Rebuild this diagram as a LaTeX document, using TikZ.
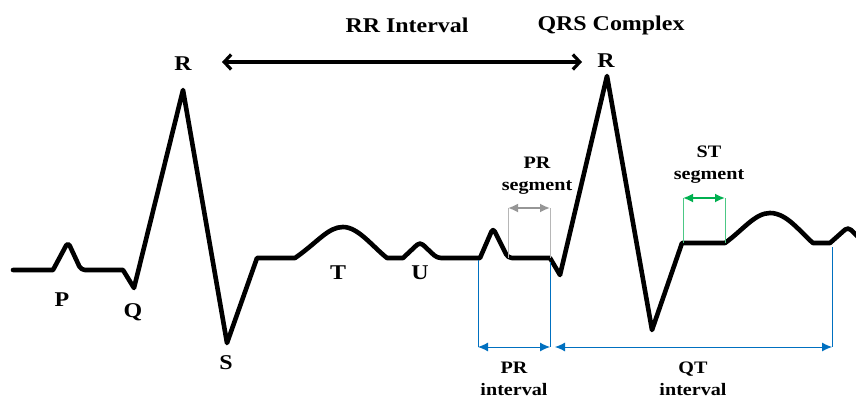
\documentclass[tikz,border=0pt]{standalone}
\usepackage{fontspec}
\setmainfont{Liberation Serif}
\usetikzlibrary{arrows.meta}
\definecolor{ivblue}{RGB}{0,112,192}
\definecolor{stgreen}{RGB}{0,176,80}
\definecolor{prgray}{RGB}{150,150,150}
\tikzset{
  trace/.style={line width=4.6pt, line join=round, line cap=round, black},
  lbl/.style={font=\bfseries\fontsize{21}{24}\selectfont, inner sep=0pt, xscale=1.14},
  slbl/.style={font=\bfseries\fontsize{17.5}{22}\selectfont, inner sep=0pt, align=center, xscale=1.15},
  bluev/.style={ivblue, line width=0.8pt},
  bluearr/.style={ivblue, line width=0.9pt, {Latex[length=10pt,width=9pt]}-{Latex[length=10pt,width=9pt]}},
  grayv/.style={prgray!70, line width=0.8pt},
  grayarr/.style={prgray, line width=1.8pt, {Latex[length=10pt,width=9pt]}-{Latex[length=10pt,width=9pt]}},
  greenv/.style={stgreen!70, line width=0.8pt},
  greenarr/.style={stgreen, line width=1.8pt, {Latex[length=10pt,width=9pt]}-{Latex[length=10pt,width=9pt]}},
  rrarr/.style={black, line width=3.2pt, {Straight Barb[length=7pt,width=15pt]}-{Straight Barb[length=7pt,width=15pt]}}
}
\begin{document}
\begin{tikzpicture}[x=1pt,y=-1pt]
\useasboundingbox (0,0) rectangle (856,401);
\clip (0,0) rectangle (856,401);
% ECG trace
\draw[trace] (13,270) -- (53,270)
  [rounded corners=4pt] -- (68,242) -- (81,270) [sharp corners] -- (123,270)
  -- (134,288) -- (183,90) -- (227,343) -- (257,258) -- (295,258)
  .. controls (318,242) and (328,227) .. (343,227)
  .. controls (358,227) and (372,246) .. (387,258)
  -- (403,258) [rounded corners=4pt] -- (420,242) -- (437,258) [sharp corners]
  -- (480,258) [rounded corners=4pt] -- (493,228) -- (508,258) [sharp corners]
  -- (550,258) -- (560,275) -- (607,76) -- (652,330) -- (682,243) -- (725,243)
  .. controls (743,230) and (755,213) .. (770,213)
  .. controls (787,213) and (800,232) .. (813,243)
  -- (830,243) [rounded corners=4pt] -- (848,227) -- (866,245);
% coordinates
\coordinate (rrL) at (222,62);
\coordinate (rrR) at (582,62);
\coordinate (prsL) at (508,208);
\coordinate (prsR) at (550,208);
\coordinate (prsLb) at (508,258);
\coordinate (prsRb) at (550,258);
\coordinate (stL) at (683,198);
\coordinate (stR) at (725,198);
\coordinate (stLb) at (683,243);
\coordinate (stRb) at (725,243);
\coordinate (prT) at (478,260);
\coordinate (prB) at (478,347);
\coordinate (qT) at (550,262);
\coordinate (qB) at (550,347);
\coordinate (qtT) at (832,247);
\coordinate (qtB) at (832,347);
\coordinate (qtL) at (555,347);
% labels
\node[lbl] (lP) at (62,300) {P};
\node[lbl] (lQ) at (133,312) {Q};
\node[lbl] (lR1) at (183,64) {R};
\node[lbl] (lS) at (226,363) {S};
\node[lbl] (lT) at (338,273) {T};
\node[lbl] (lU) at (420,273) {U};
\node[lbl] (lR2) at (606,61) {R};
\node[lbl] (lRR) at (407,25) {RR Interval};
\node[lbl] (lQRS) at (611,25) {QRS Complex};
\node[slbl] (lPRs) at (537,176) {PR\\segment};
\node[slbl] (lSTs) at (709,165) {ST\\segment};
\node[slbl] (lPRi) at (514,379) {PR\\interval};
\node[slbl] (lQTi) at (693,379) {QT\\interval};
% RR arrow
\draw[rrarr] (rrL) -- (rrR);
% PR segment
\draw[grayv] (prsL) -- (prsLb);
\draw[grayv] (prsR) -- (prsRb);
\draw[grayarr] (prsL) -- (prsR);
% ST segment
\draw[greenv] (stL) -- (stLb);
\draw[greenv] (stR) -- (stRb);
\draw[greenarr] (stL) -- (stR);
% intervals
\draw[bluev] (prT) -- (prB);
\draw[bluev] (qT) -- (qB);
\draw[bluev] (qtT) -- (qtB);
\draw[bluearr] (prB) -- (qB);
\draw[bluearr] (qtL) -- (qtB);
\end{tikzpicture}
\end{document}
